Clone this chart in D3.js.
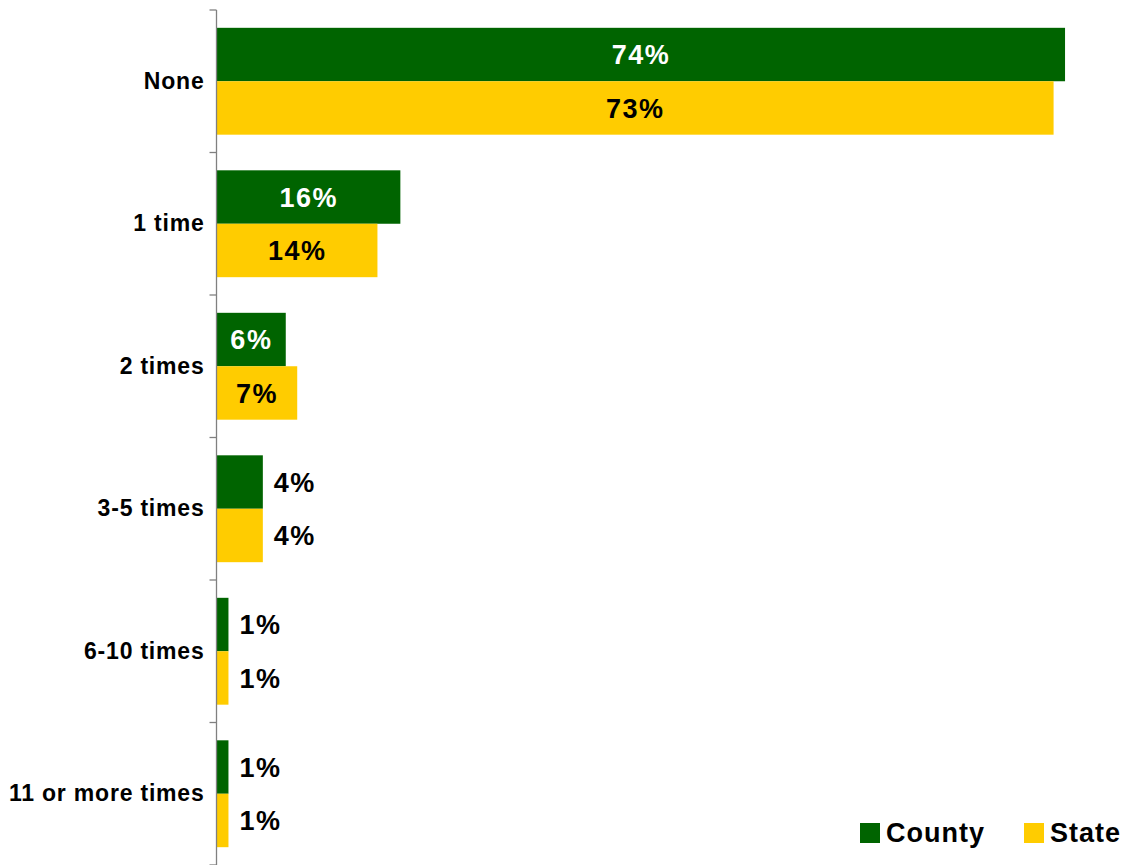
<!DOCTYPE html>
<html>
<head>
<meta charset="utf-8">
<script src="https://cdn.jsdelivr.net/npm/d3@7"></script>
<style>
  html, body { margin: 0; padding: 0; background: #fff; }
  svg { display: block; }
  text { font-family: "Liberation Sans", Arial, sans-serif; font-weight: bold; }
</style>
</head>
<body>
<script>
const categories = ["None", "1 time", "2 times", "3-5 times", "6-10 times", "11 or more times"];
const seriesNames = ["County", "State"];
const countyValues = [74, 16, 6, 4, 1, 1];
const stateValues = [73, 14, 7, 4, 1, 1];
const colors = ["#006400", "#FFCC00"];
const labelColorsInside = ["#ffffff", "#000000"];

const W = 1126, H = 865;
const svg = d3.select("body").append("svg").attr("width", W).attr("height", H);

const x = d3.scaleLinear().domain([0, 80]).range([217, 217 + 916.8]);
const y = d3.scaleBand().domain(categories).range([10, 865]).padding(0);
const bw = y.bandwidth();
const ySub = d3.scaleBand().domain(seriesNames).range([bw * 0.125, bw * 0.875]).padding(0);

const data = categories.map((c, i) => ({
  cat: c,
  vals: [
    { s: seriesNames[0], v: countyValues[i], k: 0 },
    { s: seriesNames[1], v: stateValues[i], k: 1 }
  ]
}));

const groups = svg.selectAll("g.cat").data(data).join("g")
  .attr("class", "cat")
  .attr("transform", d => `translate(0,${y(d.cat)})`);

groups.selectAll("rect").data(d => d.vals).join("rect")
  .attr("x", x(0))
  .attr("y", d => ySub(d.s))
  .attr("width", d => x(d.v) - x(0))
  .attr("height", ySub.bandwidth())
  .attr("fill", d => colors[d.k]);

groups.selectAll("text.val").data(d => d.vals).join("text")
  .attr("class", "val")
  .attr("font-size", 27)
  .attr("letter-spacing", 1.5)
  .attr("dy", "0.36em")
  .attr("y", d => ySub(d.s) + ySub.bandwidth() / 2)
  .attr("x", d => d.v >= 5 ? (x(0) + x(d.v)) / 2 : x(d.v) + 11)
  .attr("text-anchor", d => d.v >= 5 ? "middle" : "start")
  .attr("fill", d => d.v >= 5 ? labelColorsInside[d.k] : "#000")
  .text(d => d.v + "%");

// Axis
const axis = d3.axisLeft(y).tickSize(0).tickPadding(12);
const gAxis = svg.append("g").attr("transform", `translate(${x(0) - 0.5},0)`).call(axis);
gAxis.select(".domain").attr("stroke", "#808080").attr("stroke-width", 1.3).attr("d", `M0,10V865`);
gAxis.selectAll(".tick text")
  .attr("font-size", 23)
  .attr("letter-spacing", 0.8)
  .attr("font-family", "Liberation Sans, Arial, sans-serif")
  .attr("font-weight", "bold")
  .attr("fill", "#000");

// boundary ticks
const boundaries = categories.map(c => y(c)).concat([y.range()[1]]);
gAxis.selectAll("line.bound").data(boundaries).join("line")
  .attr("class", "bound")
  .attr("x1", -7).attr("x2", 0)
  .attr("y1", d => d).attr("y2", d => d)
  .attr("stroke", "#808080").attr("stroke-width", 1.3);

// Legend
const legendX = [860, 1024];
const leg = svg.append("g");
seriesNames.forEach((s, i) => {
  leg.append("rect").attr("x", legendX[i]).attr("y", 823).attr("width", 20).attr("height", 20).attr("fill", colors[i]);
  leg.append("text").attr("x", legendX[i] + 26).attr("y", 842).attr("font-size", 27)
    .attr("letter-spacing", 1).attr("fill", "#000").text(s);
});
</script>
</body>
</html>
